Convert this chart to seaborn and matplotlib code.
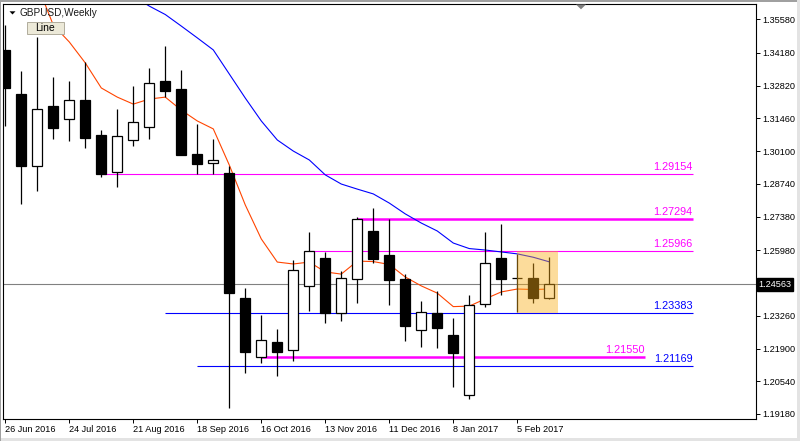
import numpy as np
import pandas as pd
import seaborn as sns
import matplotlib.pyplot as plt
from matplotlib.patches import Rectangle, Polygon

# Weekly GBPUSD candles, 26 Jun 2016 .. 19 Feb 2017
opens = [1.3430, 1.3246, 1.2949, 1.3197, 1.3142, 1.3222, 1.3077, 1.2922, 1.3055, 1.3109,
         1.3301, 1.3268, 1.2998, 1.2959, 1.2918, 1.2400, 1.2153, 1.2216, 1.2183, 1.2448,
         1.2565, 1.2339, 1.2477, 1.2678, 1.2578, 1.2479, 1.2266, 1.2336, 1.2245, 1.1996,
         1.2373, 1.2566, 1.2484, 1.2481, 1.2401]
highs = [1.3533, 1.3342, 1.3482, 1.3318, 1.3301, 1.3378, 1.3097, 1.3185, 1.3280, 1.3354,
         1.3446, 1.3347, 1.3122, 1.3060, 1.2948, 1.2441, 1.2329, 1.2271, 1.2556, 1.2673,
         1.2592, 1.2512, 1.2735, 1.2773, 1.2727, 1.2499, 1.2387, 1.2429, 1.2315, 1.2412,
         1.2675, 1.2708, 1.2582, 1.2546, 1.2571]
lows = [1.3114, 1.2791, 1.2845, 1.3061, 1.3053, 1.3021, 1.2901, 1.2862, 1.3032, 1.3060,
        1.3236, 1.2994, 1.2913, 1.2913, 1.1942, 1.2087, 1.2131, 1.2077, 1.2139, 1.2347,
        1.2297, 1.2305, 1.2380, 1.2546, 1.2372, 1.2222, 1.2197, 1.2192, 1.2031, 1.1982,
        1.2364, 1.2411, 1.2343, 1.2380, 1.2397]
closes = [1.3272, 1.2949, 1.3185, 1.3107, 1.3222, 1.3066, 1.2913, 1.3072, 1.3129, 1.3291,
          1.3261, 1.2994, 1.2958, 1.2971, 1.2422, 1.2177, 1.2224, 1.2177, 1.2515, 1.2594,
          1.2336, 1.2481, 1.2726, 1.2563, 1.2476, 1.2285, 1.2340, 1.2276, 1.2173, 1.2369,
          1.2545, 1.2477, 1.2484, 1.2401, 1.24563]

# moving averages as drawn on the chart
ma_fast = [1.3886, 1.3795, 1.3700, 1.3533, 1.3463, 1.3376, 1.3272, 1.3234, 1.3205, 1.3226,
           1.3234, 1.3180, 1.3135, 1.3102, 1.2952, 1.2786, 1.2645, 1.2549, 1.2541, 1.2549,
           1.2508, 1.2499, 1.2553, 1.2551, 1.2539, 1.2487, 1.2450, 1.2420, 1.2364, 1.2366,
           1.2396, 1.2425, 1.2437, 1.2435, 1.2437]
ma_slow = [1.4032, 1.3986, 1.3936, 1.3886, 1.3832, 1.3783, 1.3737, 1.3695, 1.3654, 1.3612,
           1.3577, 1.3529, 1.3480, 1.3430, 1.3330, 1.3230, 1.3135, 1.3056, 1.3010, 1.2973,
           1.2911, 1.2873, 1.2852, 1.2832, 1.2794, 1.2749, 1.2711, 1.2678, 1.2628, 1.2605,
           1.2599, 1.2591, 1.2583, 1.2569, 1.2550]

date_labels = ["26 Jun 2016", "24 Jul 2016", "21 Aug 2016", "18 Sep 2016", "16 Oct 2016",
               "13 Nov 2016", "11 Dec 2016", "8 Jan 2017", "5 Feb 2017"]
price_ticks = [1.35580, 1.34180, 1.32820, 1.31460, 1.30100, 1.28740, 1.27380,
               1.25980, 1.23260, 1.21900, 1.20540, 1.19180]
last_price = 1.24563

# horizontal levels: price, bar where it starts, bar where it ends
level_prices = [1.29154, 1.27294, 1.25966, 1.23383, 1.21550, 1.21169]
level_start = [6, 22, 19, 10, 16, 12]
level_end = [43, 43, 43, 43, 40, 43]
zone_low, zone_high = 1.23383, 1.25966

W, H = 800, 441
sns.set_theme(style="white")
plt.rcParams['font.family'] = ['Liberation Sans', 'DejaVu Sans']

df = pd.DataFrame({"bar": np.arange(len(opens)), "open": opens, "high": highs,
                   "low": lows, "close": closes, "fast": ma_fast, "slow": ma_slow})

fig = plt.figure(figsize=(W / 100, H / 100), dpi=100, facecolor="white")
ax = fig.add_axes([3 / W, 1 - 418.5 / H, 752.5 / W, 414.5 / H])
ax.set_facecolor("white")

# last price line behind everything
ax.axhline(last_price, color="#808080", lw=0.8, zorder=1)

level_colors = ["#FF00FF", "#FF00FF", "#FF00FF", "#0000FF", "#FF00FF", "#0000FF"]
level_widths = [0.8, 1.8, 0.8, 0.8, 1.8, 0.8]
for p, s, e, c, lw in zip(level_prices, level_start, level_end, level_colors, level_widths):
    ax.plot([s, e], [p, p], color=c, lw=lw, zorder=1.5, solid_capstyle="butt")

sns.lineplot(data=df, x="bar", y="fast", color="#FF4500", lw=0.8, ax=ax, zorder=2, legend=False)
sns.lineplot(data=df, x="bar", y="slow", color="#0000FF", lw=0.8, ax=ax, zorder=2, legend=False)

# candles
up = df["close"] >= df["open"]
ax.vlines(df["bar"], df["low"], df["high"], color="black", lw=0.9, zorder=3)
body_low = np.minimum(df["open"], df["close"])
body_h = (df["close"] - df["open"]).abs()
ax.bar(df["bar"], body_h, bottom=body_low, width=0.62,
       color=np.where(up, "white", "black"), edgecolor="black", linewidth=0.9, zorder=4)

# highlighted zone over the last weeks
ax.add_patch(Rectangle((32, zone_low), 2.52, zone_high - zone_low,
                       facecolor="#F9AE17", alpha=0.43, lw=0, zorder=5))

# level labels
off = 0.0008
for p, e, c in zip(level_prices, level_end, level_colors):
    ax.text(e - 0.05, p + off, f"{p:.5f}", color=c, ha="right", va="bottom",
            fontsize=7.8, zorder=6)

ax.set_xlim(-0.144, 46.89)
ax.set_ylim(1.18993, 1.36207)
ax.set_xlabel("")
ax.set_ylabel("")

ax.set_xticks(range(0, 33, 4))
ax.set_xticklabels(date_labels)
for lbl in ax.get_xticklabels():
    lbl.set_ha("left")
ax.set_yticks(price_ticks)
ax.set_yticklabels([f"{t:.5f}" for t in price_ticks])
ax.yaxis.set_ticks_position("right")
ax.tick_params(axis="both", direction="out", length=3, width=0.7, color="black",
               labelsize=6.6, labelcolor="black", pad=2,
               bottom=True, right=True, left=False, top=False)
for sp in ax.spines.values():
    sp.set_color("black")
    sp.set_linewidth(0.8)

# last price tag
ax.text(1.004, last_price, f"{last_price:.5f}", transform=ax.get_yaxis_transform(),
        color="white", fontsize=6.6, va="center", ha="left",
        bbox=dict(boxstyle="square,pad=0.18", fc="black", ec="black"))

# header: triangle, symbol name and "Line" button
def fx(x):
    return x / W

def fy(y):
    return 1 - y / H

fig.patches.append(Polygon([(fx(9.5), fy(11.3)), (fx(15.5), fy(11.3)), (fx(12.5), fy(14.5))],
                           closed=True, fc="black", ec="none", transform=fig.transFigure))
fig.text(fx(20), fy(13), "GBPUSD,Weekly", fontsize=7.2, color="#1a1a1a", va="center", ha="left")
fig.patches.append(Rectangle((fx(27), fy(34)), 37 / W, 12 / H, fc="#ECE9D8", ec="#B0AC9C",
                             lw=0.7, transform=fig.transFigure))
fig.text(fx(45.5), fy(28), "Line", fontsize=7.5, color="black", va="center", ha="center")

# chart-shift marker
fig.patches.append(Polygon([(fx(576), fy(4.5)), (fx(586), fy(4.5)), (fx(581), fy(9.3))],
                           closed=True, fc="#808080", ec="none", transform=fig.transFigure))

# window borders
fig.patches.append(Rectangle((0, fy(1.5)), 1, 1.5 / H, fc="#A0A0A0", ec="none", transform=fig.transFigure))
fig.patches.append(Rectangle((0, 0), 1, 3.3 / H, fc="#E3E3E3", ec="none", transform=fig.transFigure))
fig.patches.append(Rectangle((fx(797.3), 0), 2.7 / W, 1, fc="#E3E3E3", ec="none", transform=fig.transFigure))
fig.patches.append(Rectangle((0, 0), 1 / W, 1, fc="#A0A0A0", ec="none", transform=fig.transFigure))

fig.savefig("out.png", dpi=100)
